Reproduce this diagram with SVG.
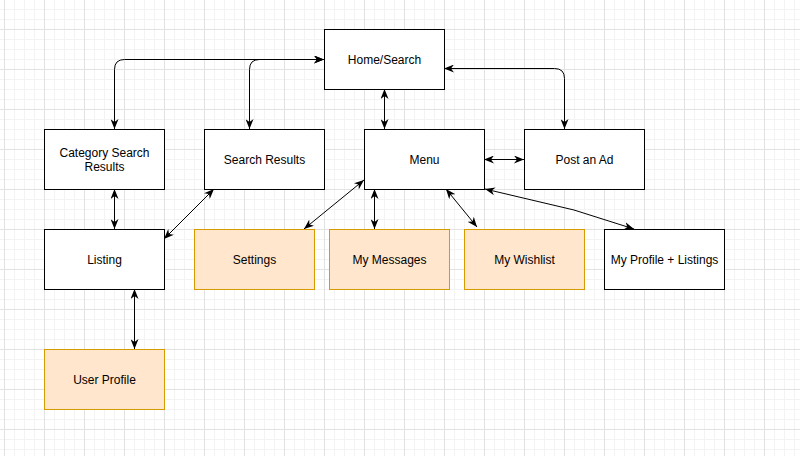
<svg xmlns="http://www.w3.org/2000/svg" width="800" height="456" viewBox="0 0 800 456">
<style>
.box{fill:#ffffff;stroke:#000000;stroke-width:1}
.orange{fill:#ffe6cc;stroke:#d79b00;stroke-width:1}
.lbl{font-family:"Liberation Sans",Arial,sans-serif;font-size:12px;fill:#000000;text-anchor:middle;dominant-baseline:central}
.edge{fill:none;stroke:#000000;stroke-width:1;marker-start:url(#arr);marker-end:url(#arr)}
</style>
<defs>
<pattern id="grid" patternUnits="userSpaceOnUse" x="4" y="29" width="40" height="40">
<path d="M10.5,0V40M20.5,0V40M30.5,0V40M0,10.5H40M0,20.5H40M0,30.5H40" stroke="#f3f3f3" stroke-width="1" fill="none"/>
<path d="M0.5,0V40M0,0.5H40" stroke="#e2e2e2" stroke-width="1" fill="none"/>
</pattern>
<marker id="arr" markerUnits="userSpaceOnUse" markerWidth="10" markerHeight="8" refX="10" refY="4" orient="auto-start-reverse">
<path d="M0,0 L10,4 L0,8 L3,4 Z" fill="#000000"/>
</marker>
</defs>
<rect x="0" y="0" width="800" height="456" fill="#ffffff"/>
<rect x="0" y="0" width="800" height="456" fill="url(#grid)"/>
<g id="connectors">
<path class="edge" d="M324,59.5 H124.5 Q114.5,59.5 114.5,69.5 V129"/>
<path class="edge" d="M324,59.5 H259.5 Q249.5,59.5 249.5,69.5 V129"/>
<path class="edge" d="M444,68.5 H554.5 Q564.5,68.5 564.5,78.5 V129"/>
<path class="edge" d="M384.5,89 V129"/>
<path class="edge" d="M484,159.5 H524"/>
<path class="edge" d="M114.5,189 V229"/>
<path class="edge" d="M214,189 L164,239"/>
<path class="edge" d="M364,180 L304,229"/>
<path class="edge" d="M374.5,189 V229"/>
<path class="edge" d="M446,189 L477,227"/>
<path class="edge" d="M485,189 L574,210 L634,229"/>
<path class="edge" d="M134.5,289 V349"/>
</g>
<g id="home"><rect class="box" x="324.5" y="29.5" width="120" height="60"/><text class="lbl" x="384.5" y="59.5">Home/Search</text></g>
<g id="category"><rect class="box" x="44.5" y="129.5" width="120" height="60"/><text class="lbl" x="104.5" y="152.5">Category Search</text><text class="lbl" x="104.5" y="166.5">Results</text></g>
<g id="searchresults"><rect class="box" x="204.5" y="129.5" width="120" height="60"/><text class="lbl" x="264.5" y="159.5">Search Results</text></g>
<g id="menu"><rect class="box" x="364.5" y="129.5" width="120" height="60"/><text class="lbl" x="424.5" y="159.5">Menu</text></g>
<g id="postad"><rect class="box" x="524.5" y="129.5" width="120" height="60"/><text class="lbl" x="584.5" y="159.5">Post an Ad</text></g>
<g id="listing"><rect class="box" x="44.5" y="229.5" width="120" height="60"/><text class="lbl" x="104.5" y="259.5">Listing</text></g>
<g id="settings"><rect class="orange" x="194.5" y="229.5" width="120" height="60"/><text class="lbl" x="254.5" y="259.5">Settings</text></g>
<g id="messages"><rect class="orange" x="329.5" y="229.5" width="120" height="60"/><text class="lbl" x="389.5" y="259.5">My Messages</text></g>
<g id="wishlist"><rect class="orange" x="464.5" y="229.5" width="120" height="60"/><text class="lbl" x="524.5" y="259.5">My Wishlist</text></g>
<g id="profile"><rect class="box" x="604.5" y="229.5" width="120" height="60"/><text class="lbl" x="664.5" y="259.5">My Profile + Listings</text></g>
<g id="userprofile"><rect class="orange" x="44.5" y="349.5" width="120" height="60"/><text class="lbl" x="104.5" y="379.5">User Profile</text></g>
</svg>
